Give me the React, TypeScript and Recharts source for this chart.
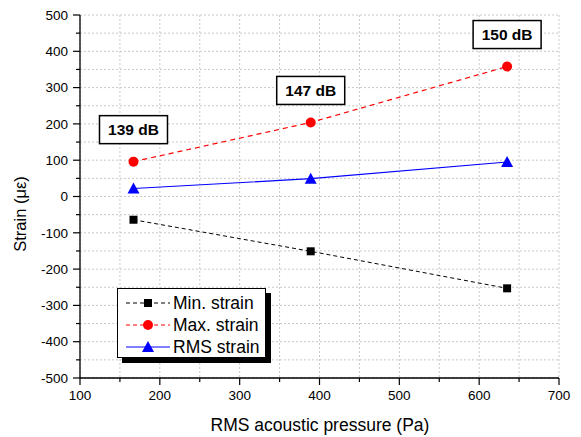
import { LineChart, Line, XAxis, YAxis, CartesianGrid, Legend, LabelList } from 'recharts'

// values
const pressure = [167, 389, 635]
const minStrain = [-64, -151, -253]
const maxStrain = [96, 204, 358]
const rmsStrain = [22, 49, 95]
const dbLabels = ['139 dB', '147 dB', '150 dB']

const xTicks = [100, 150, 200, 250, 300, 350, 400, 450, 500, 550, 600, 650, 700]
const yTicks = [-500, -450, -400, -350, -300, -250, -200, -150, -100, -50, 0, 50, 100, 150, 200, 250, 300, 350, 400, 450, 500]

const data = pressure.map((p, i) => ({
  p,
  min: minStrain[i],
  max: maxStrain[i],
  rms: rmsStrain[i],
  db: dbLabels[i],
}))

const FONT = '"Liberation Sans", Arial, sans-serif'

const makeTick = (side: string) => (props: any) => {
  const { x, y, payload } = props
  const major = payload.value % 100 === 0
  const len = major ? 7 : 4
  if (side === 'left') {
    return (
      <g>
        <line x1={x} x2={x - len} y1={y} y2={y} stroke="#000" strokeWidth={1.2} />
        {major && (
          <text x={x - 12} y={y} dy="0.35em" textAnchor="end" fontSize={13.5} fill="#000" fontFamily={FONT}>
            {payload.value}
          </text>
        )}
      </g>
    )
  }
  if (side === 'right') {
    return <line x1={x} x2={x + len} y1={y} y2={y} stroke="#000" strokeWidth={1.2} />
  }
  if (side === 'top') {
    return <line x1={x} x2={x} y1={y} y2={y - len} stroke="#000" strokeWidth={1.2} />
  }
  return (
    <g>
      <line x1={x} x2={x} y1={y} y2={y + len} stroke="#000" strokeWidth={1.2} />
      {major && (
        <text x={x} y={y + 22} textAnchor="middle" fontSize={13.5} fill="#000" fontFamily={FONT}>
          {payload.value}
        </text>
      )}
    </g>
  )
}

const Square = (props: any) => {
  const { cx, cy } = props
  if (cx == null || cy == null) return null
  return <rect x={cx - 4} y={cy - 4} width={8} height={8} fill="#000" />
}

const Circle = (props: any) => {
  const { cx, cy } = props
  if (cx == null || cy == null) return null
  return <circle cx={cx} cy={cy} r={5} fill="#ff0000" />
}

const Triangle = (props: any) => {
  const { cx, cy } = props
  if (cx == null || cy == null) return null
  return <path d={`M${cx},${cy - 6} L${cx + 6},${cy + 5} L${cx - 6},${cy + 5} Z`} fill="#0000ff" />
}

const DbBox = (props: any) => {
  const { x, y, value } = props
  return (
    <g>
      <rect x={x - 34} y={y - 46} width={68} height={28} fill="#fff" stroke="#000" strokeWidth={1.5} />
      <text x={x} y={y - 32} dy="0.36em" textAnchor="middle" fontSize={15.5} fontWeight="bold" fill="#000" fontFamily={FONT}>
        {value}
      </text>
    </g>
  )
}

const legendItems = [
  { name: 'Min. strain', color: '#000', dash: '4 3', marker: 'square' },
  { name: 'Max. strain', color: '#ff0000', dash: '4 3', marker: 'circle' },
  { name: 'RMS strain', color: '#0000ff', dash: undefined, marker: 'triangle' },
]

const LegendBox = () => (
  <div
    style={{
      width: 147,
      height: 65,
      border: '1px solid #000',
      background: '#fff',
      boxShadow: '5px 5px 0 #000',
      padding: '3px 0 0 0',
      boxSizing: 'content-box',
      fontFamily: FONT,
      fontSize: 17.5,
      lineHeight: '22px',
      color: '#000',
    }}
  >
    {legendItems.map((it) => (
      <div key={it.name} style={{ display: 'flex', alignItems: 'center', height: 22 }}>
        <svg width={48} height={14} style={{ marginLeft: 6 }}>
          <line x1={2} x2={46} y1={7} y2={7} stroke={it.color} strokeWidth={1.2} strokeDasharray={it.dash} />
          {it.marker === 'square' && <rect x={20} y={3} width={8} height={8} fill={it.color} />}
          {it.marker === 'circle' && <circle cx={24} cy={7} r={5} fill={it.color} />}
          {it.marker === 'triangle' && <path d="M24,1 L30,12 L18,12 Z" fill={it.color} />}
        </svg>
        <span style={{ marginLeft: 1 }}>{it.name}</span>
      </div>
    ))}
  </div>
)

export default function App() {
  return (
    <div style={{ position: 'absolute', left: 0, top: 0, width: 581, height: 437, background: '#fff' }}>
      <LineChart width={581} height={437} data={data} margin={{ top: 15, right: 22, bottom: 15, left: 0 }}>
        <CartesianGrid stroke="#c8c8c8" strokeDasharray="2 2" strokeWidth={1} />
        <XAxis
          dataKey="p"
          type="number"
          domain={[100, 700]}
          ticks={xTicks}
          interval={0}
          height={44}
          tickSize={0}
          tickMargin={0}
          tickLine={false}
          tick={makeTick('bottom')}
          axisLine={{ stroke: '#000', strokeWidth: 1.3 }}
          label={() => (
            <text x={320} y={431} textAnchor="middle" fontSize={17.5} fill="#000" fontFamily={FONT}>
              RMS acoustic pressure (Pa)
            </text>
          )}
        />
        <XAxis
          xAxisId="top"
          orientation="top"
          type="number"
          domain={[100, 700]}
          ticks={xTicks}
          interval={0}
          height={0}
          tickSize={0}
          tickMargin={0}
          tickLine={false}
          tick={makeTick('top')}
          axisLine={{ stroke: '#000', strokeWidth: 1.3 }}
        />
        <YAxis
          type="number"
          domain={[-500, 500]}
          ticks={yTicks}
          interval={0}
          width={80}
          tickSize={0}
          tickMargin={0}
          tickLine={false}
          tick={makeTick('left')}
          axisLine={{ stroke: '#000', strokeWidth: 1.3 }}
          label={() => (
            <text
              x={20}
              y={214}
              transform="rotate(-90 20 214)"
              textAnchor="middle"
              dy="0.35em"
              fontSize={16.5}
              fill="#000"
              fontFamily={FONT}
            >
              Strain (με)
            </text>
          )}
        />
        <YAxis
          yAxisId="r"
          orientation="right"
          type="number"
          domain={[-500, 500]}
          ticks={yTicks}
          interval={0}
          width={0}
          tickSize={0}
          tickMargin={0}
          tickLine={false}
          tick={makeTick('right')}
          axisLine={{ stroke: '#000', strokeWidth: 1.3 }}
        />
        <Legend
          layout="vertical"
          align="center"
          verticalAlign="middle"
          wrapperStyle={{ left: 117, top: 288, width: 'auto' }}
          content={() => <LegendBox />}
        />
        <Line
          dataKey="min"
          name="Min. strain"
          type="linear"
          stroke="#000"
          strokeWidth={1}
          strokeDasharray="4 3"
          dot={<Square />}
          activeDot={false}
          isAnimationActive={false}
        />
        <Line
          dataKey="max"
          name="Max. strain"
          type="linear"
          stroke="#ff0000"
          strokeWidth={1.2}
          strokeDasharray="5 4"
          dot={<Circle />}
          activeDot={false}
          isAnimationActive={false}
        >
          <LabelList dataKey="db" content={<DbBox />} />
        </Line>
        <Line
          dataKey="rms"
          name="RMS strain"
          type="linear"
          stroke="#0000ff"
          strokeWidth={1.2}
          dot={<Triangle />}
          activeDot={false}
          isAnimationActive={false}
        />
      </LineChart>
    </div>
  )
}
